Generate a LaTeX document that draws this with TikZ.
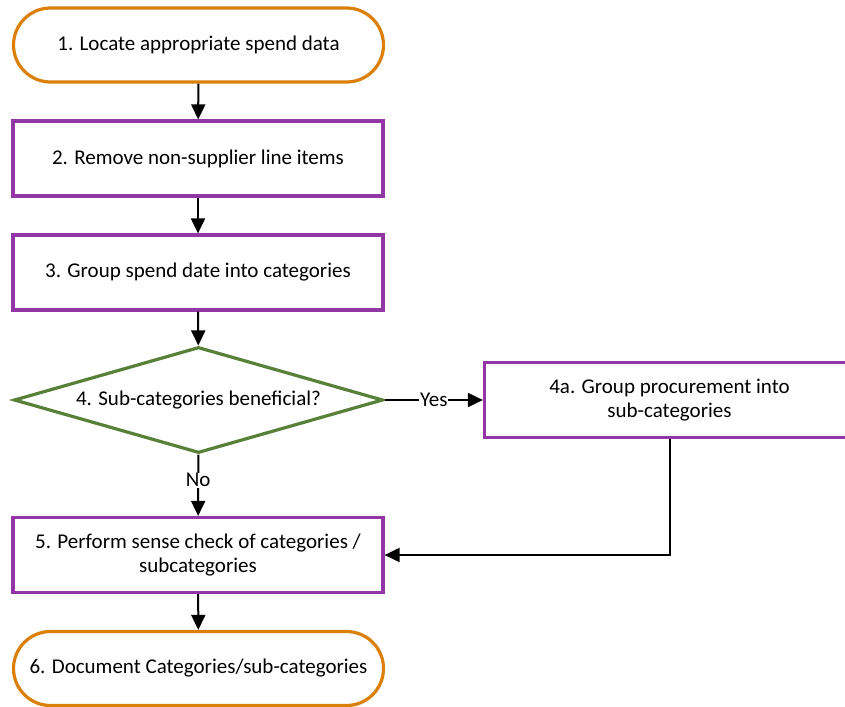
\documentclass[tikz,border=0pt]{standalone}
\usepackage{fontspec}
\setmainfont{Carlito}
\usetikzlibrary{shapes.geometric,arrows.meta}
\definecolor{termorange}{RGB}{218,128,8}
\definecolor{procpurple}{RGB}{146,54,166}
\definecolor{decgreen}{RGB}{88,128,56}
\tikzset{
  txt/.style={font=\fontsize{21}{24}\selectfont},
  base/.style={txt, align=center, fill=white, line width=3.2pt, inner sep=0pt},
  terminal/.style={base, draw=termorange, rounded corners=37pt, minimum width=370pt, minimum height=74pt},
  process/.style={base, draw=procpurple, minimum width=370pt, minimum height=75pt},
  decision/.style={base, draw=decgreen, diamond, aspect=3.5, minimum width=369pt, minimum height=106pt},
  flow/.style={line width=2pt, -{Triangle[length=15pt,width=14pt]}},
  lbl/.style={txt, fill=white, inner sep=1pt}
}
\begin{document}
\begin{tikzpicture}[x=1pt,y=-1pt]
\useasboundingbox (0,0) rectangle (845,706);
\node[terminal] (s1) at (198.5,45) {1. Locate appropriate spend data};
\node[process] (s2) at (198,158.5) {2. Remove non-supplier line items};
\node[process] (s3) at (198,272.5) {3. Group spend date into categories};
\node[decision] (s4) at (198.5,400) {4. Sub-categories beneficial?};
\node[process] (s4a) at (669.5,400) {4a. Group procurement into\\sub-categories};
\node[process] (s5) at (198,555) {5. Perform sense check of categories /\\subcategories};
\node[terminal] (s6) at (198.5,668.5) {6. Document Categories/sub-categories};

\draw[flow] (s1) -- (s2);
\draw[flow] (s2) -- (s3);
\draw[flow] (s3) -- (s4);
\draw[flow] (s4) -- node[lbl] {Yes} (s4a);
\draw[flow] (s4) -- node[lbl, pos=0.42] {No} (s5);
\draw[flow] (s4a) |- (s5);
\draw[flow] (s5) -- (s6);
\end{tikzpicture}
\end{document}
